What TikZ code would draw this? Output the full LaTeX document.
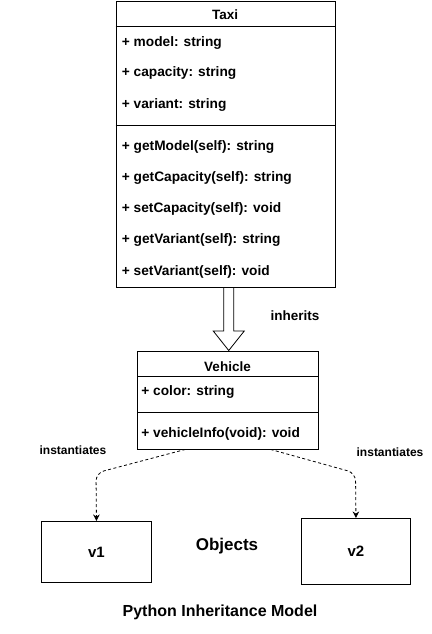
\documentclass[tikz,border=0pt]{standalone}
\usepackage{fontspec}
\setmainfont{Liberation Sans}
\usetikzlibrary{arrows.meta}
\begin{document}
\begin{tikzpicture}[
      x=1pt, y=-1pt,
      line width=0.9pt,
      classbox/.style={draw=black, fill=white, anchor=north west, inner sep=0pt},
      member/.style={anchor=west, inner sep=0pt, text height=9pt, text depth=0pt, font=\fontsize{13.7}{15}\bfseries},
      header/.style={inner sep=0pt, font=\fontsize{13.5}{15}\bfseries},
      objbox/.style={draw=black, fill=white, anchor=north west, font=\fontsize{15}{17}\bfseries},
      label/.style={inner sep=0pt, font=\fontsize{12}{14}\bfseries},
      inst/.style={dashed, dash pattern=on 3pt off 2.5pt, line width=0.8pt, rounded corners=8pt, -{Stealth[length=6.5pt, width=6.5pt]}}
    ]
      \useasboundingbox (0,0) rectangle (431,634);

      % Taxi class
      \node[classbox, minimum width=219.5, minimum height=285.5] (taxi) at (115.5,1) {};
      \node[header] (taxiname) at (225.2,15) {Taxi};
      \draw (115.5,26) -- (335,26);
      \draw (115.5,125.5) -- (335,125.5);
      \node[member] (model) at (121.5,42) {+ model: string};
      \node[member] (capacity) at (121.5,72.5) {+ capacity: string};
      \node[member] (variant) at (121.5,104) {+ variant: string};
      \node[member] (getmodel) at (121.5,145.5) {+ getModel(self): string};
      \node[member] (getcapacity) at (121.5,176.5) {+ getCapacity(self): string};
      \node[member] (setcapacity) at (121.5,208) {+ setCapacity(self): void};
      \node[member] (getvariant) at (121.5,239) {+ getVariant(self): string};
      \node[member] (setvariant) at (121.5,270.5) {+ setVariant(self): void};

      % Vehicle class
      \node[classbox, minimum width=180.4, minimum height=98] (vehicle) at (137.3,350.5) {};
      \node[header] (vehiclename) at (227.5,366.5) {Vehicle};
      \draw (137.3,376.7) -- (317.7,376.7);
      \draw (137.3,412.3) -- (317.7,412.3);
      \node[member] (color) at (141,390.5) {+ color: string};
      \node[member] (info) at (141,432.5) {+ vehicleInfo(void): void};

      % hollow inheritance arrow
      \draw[fill=white, line width=0.8pt]
        ([xshift=0.8pt]vehicle.north) -- ++(-15.5,-19.5) -- ++(10.5,0) -- ++(0,-43.5)
        -- ++(10,0) -- ++(0,43.5) -- ++(10.5,0) -- cycle;
      \node[header] (inherits) at (295,316) {inherits};

      % Objects
      \node[objbox, minimum width=110, minimum height=61] (v1) at (41,521) {v1};
      \node[objbox, minimum width=109, minimum height=66] (v2) at (301,518) {v2};
      \node[inner sep=0pt, font=\fontsize{17}{19}\bfseries] (objects) at (227,546) {Objects};

      % instantiation connectors
      \coordinate (bendl) at (96,473);
      \coordinate (bendr) at (355.5,473);
      \draw[inst] ([xshift=-42.5pt]vehicle.south) -- (bendl) -- (v1.north);
      \draw[inst] ([xshift=42.5pt]vehicle.south) -- (bendr) -- (v2.north);
      \node[label] (instl) at (73,450) {instantiates};
      \node[label] (instr) at (390,452) {instantiates};

      \node[inner sep=0pt, font=\fontsize{16}{18}\bfseries] (title) at (220,612) {Python Inheritance Model};
    \end{tikzpicture}
\end{document}
